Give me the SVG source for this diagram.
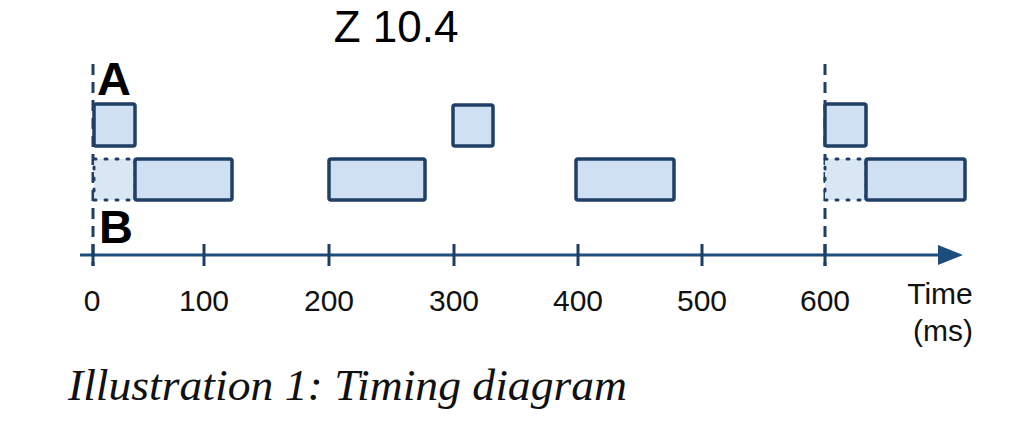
<svg xmlns="http://www.w3.org/2000/svg" width="1018" height="440" viewBox="0 0 1018 440">
<style>
.box{fill:#cfe0f2;stroke:#1f3f66;stroke-width:3.5;}
.dot{fill:#d9e6f4;stroke:#1f3f66;stroke-width:3;stroke-dasharray:2 9;stroke-linecap:round;}
.marker{stroke:#1f3f66;stroke-width:3;stroke-dasharray:11 7;fill:none;}
.axis{stroke:#1d4d7d;stroke-width:3;fill:none;}
.tick{stroke:#1d3f66;stroke-width:3;}
.lbl{font-family:"Liberation Sans",Arial,sans-serif;font-size:30px;fill:#111;text-anchor:middle;}
.big{font-family:"Liberation Sans",Arial,sans-serif;font-size:47px;font-weight:bold;fill:#000;}
</style>
<rect width="1018" height="440" fill="#fff"/>
<text x="396" y="42" font-family="'Liberation Sans',Arial,sans-serif" font-size="44" text-anchor="middle" fill="#000">Z 10.4</text>
<g id="connectors">
<line class="marker" x1="93" y1="64" x2="93" y2="266"/>
<line class="marker" x1="825" y1="64" x2="825" y2="266"/>
<line class="axis" x1="80" y1="255" x2="945" y2="255"/>
<path d="M938,245 L963,255 L938,265 Z" fill="#1d4d7d"/>
<line class="tick" x1="93" y1="244" x2="93" y2="266"/>
<line class="tick" x1="204" y1="244" x2="204" y2="266"/>
<line class="tick" x1="329" y1="244" x2="329" y2="266"/>
<line class="tick" x1="454" y1="244" x2="454" y2="266"/>
<line class="tick" x1="578" y1="244" x2="578" y2="266"/>
<line class="tick" x1="702" y1="244" x2="702" y2="266"/>
<line class="tick" x1="825" y1="244" x2="825" y2="266"/>
</g>
<g id="labelA"><text class="big" x="97" y="95">A</text></g>
<g id="labelB"><text class="big" x="99" y="243">B</text></g>
<g id="a0"><rect class="box" x="94" y="104" width="41" height="42" rx="2"/></g>
<g id="a300"><rect class="box" x="453" y="105" width="40" height="41" rx="2"/></g>
<g id="a600"><rect class="box" x="825" y="104" width="41" height="42" rx="2"/></g>
<g id="b0dot"><rect class="dot" x="94" y="159" width="41" height="41"/></g>
<g id="b0"><rect class="box" x="135" y="159" width="97" height="41" rx="2"/></g>
<g id="b200"><rect class="box" x="329" y="159" width="96" height="41" rx="2"/></g>
<g id="b400"><rect class="box" x="576" y="159" width="98" height="41" rx="2"/></g>
<g id="b600dot"><rect class="dot" x="825" y="159" width="41" height="41"/></g>
<g id="b600"><rect class="box" x="866" y="159" width="99" height="41" rx="2"/></g>
<g id="ticklabels">
<text class="lbl" x="92" y="311">0</text>
<text class="lbl" x="204" y="311">100</text>
<text class="lbl" x="329" y="311">200</text>
<text class="lbl" x="454" y="311">300</text>
<text class="lbl" x="578" y="311">400</text>
<text class="lbl" x="702" y="311">500</text>
<text class="lbl" x="825" y="311">600</text>
<text class="lbl" x="940" y="304">Time</text>
<text class="lbl" x="943" y="341">(ms)</text>
</g>
<text x="68" y="400" font-family="'Liberation Serif','Times New Roman',serif" font-style="italic" font-size="45" textLength="559" lengthAdjust="spacingAndGlyphs" fill="#111">Illustration 1: Timing diagram</text>
</svg>
